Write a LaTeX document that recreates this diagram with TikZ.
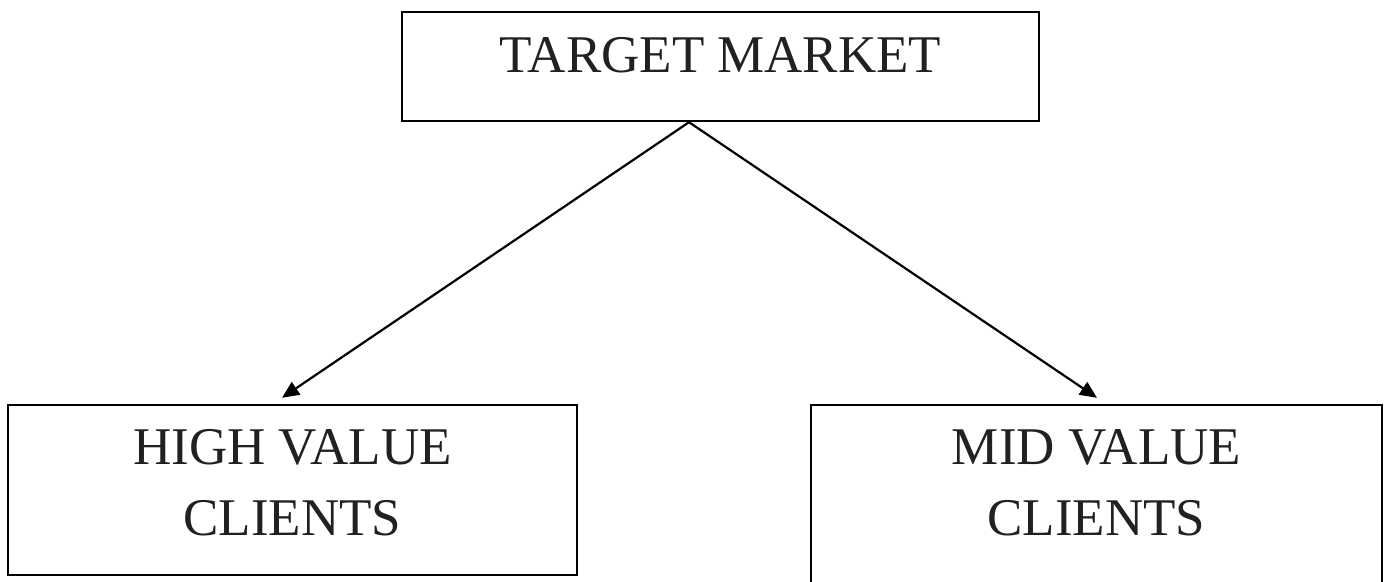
\documentclass[tikz,border=0pt]{standalone}
\usepackage{fontspec}
\setmainfont{Liberation Serif}
\usetikzlibrary{calc,arrows.meta}

\begin{document}
\begin{tikzpicture}[x=0.5pt,y=-0.5pt,
    box/.style={draw,line width=1.2pt,inner sep=0pt},
    lbl/.style={inner sep=0pt,align=center,text=black!87,
      font=\fontsize{26.5}{35.5}\selectfont},
    arr/.style={line width=1.1pt,-{Triangle[length=8.5pt,width=7.5pt]}}]
      \useasboundingbox (0,0) rectangle (1384,582);
      % boxes
      \node[box,minimum width=318.5pt,minimum height=54.5pt](top) at (720.5,66.5) {};
      \node[box,minimum width=284.5pt,minimum height=85pt](high) at (292.5,490) {};
      \node[box,minimum width=285.5pt,minimum height=95pt](mid) at (1096.5,500) {};
      % texts
      \node[lbl,anchor=base](ttop) at ($(top.north)+(0,62)$) {TARGET MARKET};
      \node[lbl,anchor=base](thigh) at ($(high.north)+(0,132)$) {HIGH VALUE\\CLIENTS};
      \node[lbl,anchor=base](tmid) at ($(mid.north)+(0,132)$) {MID VALUE\\CLIENTS};
      % arrows
      \coordinate (split) at ($(top.south)+(-31.5,0)$);
      \coordinate (hend) at ($(high.north)+(-10.5,-6)$);
      \coordinate (mend) at ($(mid.north)+(0.5,-6)$);
      \draw[arr](split)--(hend);
      \draw[arr](split)--(mend);
\end{tikzpicture}
\end{document}
